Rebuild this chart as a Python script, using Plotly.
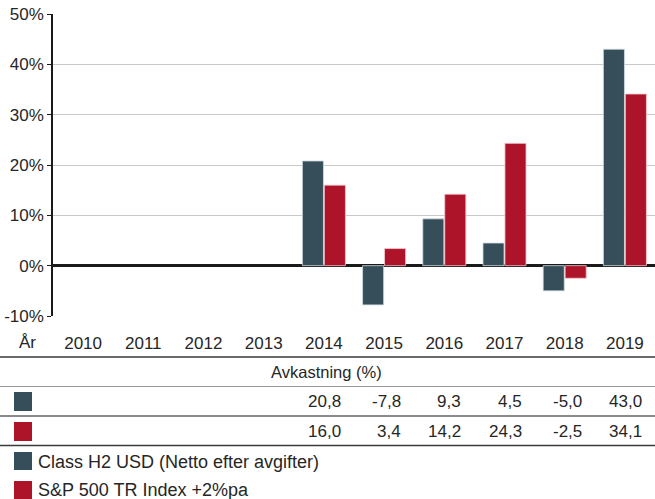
import plotly.graph_objects as go

years = ["2010", "2011", "2012", "2013", "2014", "2015", "2016", "2017", "2018", "2019"]
fund = [None, None, None, None, 20.8, -7.8, 9.3, 4.5, -5.0, 43.0]
index = [None, None, None, None, 16.0, 3.4, 14.2, 24.3, -2.5, 34.1]
fund_name = "Class H2 USD (Netto efter avgifter)"
index_name = "S&P 500 TR Index +2%pa"
table_title = "Avkastning (%)"
y_ticks = [-10, 0, 10, 20, 30, 40, 50]

C_DARK = "#364E5A"
C_RED = "#AE1429"
FONT = "Liberation Sans, Arial, sans-serif"
TXT = "#262626"

W, H = 655, 499
L, R, T, B = 53, 0, 14, 183
PW = W - L - R
PH = H - T - B


def py(ypix):
    return (H - B - ypix) / PH


def px(xpix):
    return (xpix - L) / PW


fig = go.Figure()
fig.add_trace(go.Bar(x=years, y=fund, name=fund_name, marker=dict(color=C_DARK, line=dict(color="rgba(210,220,226,0.8)", width=1))))
fig.add_trace(go.Bar(x=years, y=index, name=index_name, marker=dict(color=C_RED, line=dict(color="rgba(240,200,205,0.8)", width=1))))

shapes = []
annotations = []

# table lines
for ypix, col, w in [(357, "#3a3a3a", 1.5), (386.5, "#9a9a9a", 1.2), (416, "#8a8a8a", 2.2), (445.5, "#3a3a3a", 1.5)]:
    shapes.append(dict(type="line", xref="paper", yref="paper", x0=px(0), x1=1, y0=py(ypix), y1=py(ypix),
                       line=dict(color=col, width=w)))

# squares
for (y0, y1), col in [((392, 411), C_DARK), ((422, 441), C_RED), ((452, 470), C_DARK), ((481, 499), C_RED)]:
    shapes.append(dict(type="rect", xref="paper", yref="paper", x0=px(14), x1=px(32), y0=py(y1), y1=py(y0),
                       fillcolor=col, line=dict(width=0)))

annotations.append(dict(text=table_title, xref="paper", yref="paper", x=px(326), y=py(371.5), showarrow=False,
                        xanchor="center", yanchor="middle", font=dict(size=16.5, color=TXT, family=FONT)))
annotations.append(dict(text="År", xref="paper", yref="paper", x=px(27), y=py(342.5), showarrow=False,
                        xanchor="center", yanchor="middle", font=dict(size=17, color=TXT, family=FONT)))

for series, ypix in [(fund, 401.5), (index, 431)]:
    for i, v in enumerate(series):
        if v is None:
            continue
        s = f"{v:.1f}".replace(".", ",")
        annotations.append(dict(text=s, xref="x", yref="paper", x=i, xshift=19, y=py(ypix), showarrow=False,
                                xanchor="right", yanchor="middle", font=dict(size=17, color=TXT, family=FONT)))

for name, ypix in [(fund_name, 461.5), (index_name, 490)]:
    annotations.append(dict(text=name, xref="paper", yref="paper", x=px(36), y=py(ypix), showarrow=False,
                            xanchor="left", yanchor="middle", font=dict(size=18, color=TXT, family=FONT)))

fig.update_layout(
    width=W, height=H,
    margin=dict(l=L, r=R, t=T, b=B, autoexpand=False),
    paper_bgcolor="white", plot_bgcolor="white",
    barmode="group", bargap=0.27, bargroupgap=0.04,
    showlegend=False,
    font=dict(family=FONT, size=17, color=TXT),
    shapes=shapes, annotations=annotations,
    xaxis=dict(type="category", categoryorder="array", categoryarray=years, range=[-0.5, len(years) - 0.5],
               autorange=False, automargin=False,
               showgrid=False, showline=False, ticks="", ticklabelstandoff=15,
               tickfont=dict(size=17, color=TXT, family=FONT)),
    yaxis=dict(range=[-10, 50], autorange=False, automargin=False,
               tickvals=y_ticks, ticktext=[f"{v}%" for v in y_ticks],
               showgrid=True, gridcolor="#c9c9c9", gridwidth=1,
               zeroline=True, zerolinecolor="#1a1a1a", zerolinewidth=2.5,
               showline=True, linecolor="#1a1a1a", linewidth=1.5,
               ticks="outside", ticklen=4, tickcolor="#1a1a1a", tickwidth=1,
               tickfont=dict(size=17, color=TXT, family=FONT)),
)

fig.write_html("out.html", config={"displayModeBar": False},
               post_script="document.body.style.margin='0px';document.body.style.overflow='hidden';")
